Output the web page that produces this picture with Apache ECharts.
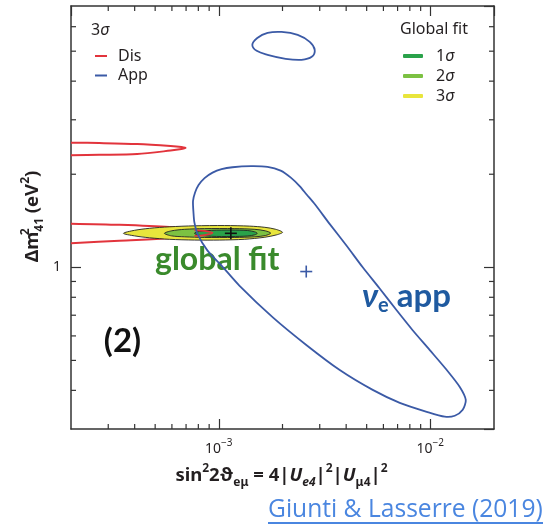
<!DOCTYPE html>
<html>
<head>
<meta charset="utf-8">
<script src="https://cdn.jsdelivr.net/npm/echarts@6/dist/echarts.min.js"></script>
<style>
  html, body { margin: 0; padding: 0; background: #fff; }
  #chart { width: 557px; height: 526px; }
</style>
</head>
<body>
<div id="chart"></div>
<script>
// Axis ranges (log scales)
const X_MIN = 2e-4, X_MAX = 2e-2;
const Y_MIN = 0.3, Y_MAX = 7;

// Minor tick values for both log axes
const xMinorTicks = [3e-4, 4e-4, 5e-4, 6e-4, 7e-4, 8e-4, 9e-4, 2e-3, 3e-3, 4e-3, 5e-3, 6e-3, 7e-3, 8e-3, 9e-3];
const yMinorTicks = [0.4, 0.5, 0.6, 0.7, 0.8, 0.9, 2, 3, 4, 5, 6];

// 3σ appearance contours: [sin²2θ_eμ, Δm²41]
const appMain = [[7.59e-4,1.499],[7.55e-4,1.638],[7.72e-4,1.745],[8.02e-4,1.845],[8.56e-4,1.943],[9.34e-4,2.024],[1.03e-3,2.077],[1.16e-3,2.107],[1.42e-3,2.123],[1.70e-3,2.112],[1.96e-3,2.054],[2.19e-3,1.950],[2.41e-3,1.831],[2.60e-3,1.720],[2.84e-3,1.602],[3.34e-3,1.382],[4.02e-3,1.174],[4.79e-3,1.0],[5.76e-3,0.854],[6.93e-3,0.726],[8.25e-3,0.626],[9.94e-3,0.540],[1.196e-2,0.4655],[1.378e-2,0.4104],[1.471e-2,0.3727],[1.423e-2,0.3461],[1.305e-2,0.3311],[1.170e-2,0.3287],[9.62e-3,0.3410],[7.17e-3,0.3646],[5.34e-3,0.4015],[3.73e-3,0.4655],[2.60e-3,0.560],[1.80e-3,0.689],[1.25e-3,0.873],[1.03e-3,1.013],[8.84e-4,1.132],[7.93e-4,1.283],[7.66e-4,1.400]];
const appIsland = [[1.44e-3,5.241],[1.52e-3,5.519],[1.70e-3,5.727],[1.98e-3,5.770],[2.36e-3,5.643],[2.69e-3,5.357],[2.84e-3,5.050],[2.75e-3,4.794],[2.46e-3,4.689],[2.07e-3,4.724],[1.70e-3,4.866],[1.51e-3,5.012]];

// 3σ disappearance contours (open towards small mixing)
const disUpper = [[2e-4,2.530],[2.72e-4,2.523],[4.11e-4,2.505],[5.91e-4,2.468],[6.66e-4,2.448],[6.96e-4,2.430],[6.66e-4,2.412],[5.91e-4,2.385],[4.11e-4,2.326],[2.72e-4,2.312],[2e-4,2.305]];
const disLower = [[2e-4,1.384],[3.39e-4,1.372],[5.84e-4,1.349],[7.67e-4,1.320],[8.56e-4,1.312],[9.34e-4,1.293],[8.56e-4,1.271],[7.67e-4,1.264],[5.84e-4,1.241],[3.39e-4,1.219],[2e-4,1.197]];

// Global fit allowed regions
const fit3 = [[3.54e-4,1.288],[3.99e-4,1.317],[4.70e-4,1.337],[5.84e-4,1.352],[7.67e-4,1.362],[1.064e-3,1.365],[1.40e-3,1.359],[1.65e-3,1.347],[1.86e-3,1.327],[2.00e-3,1.298],[1.88e-3,1.274],[1.65e-3,1.251],[1.32e-3,1.232],[1.01e-3,1.225],[7.67e-4,1.225],[5.84e-4,1.232],[4.70e-4,1.246],[3.99e-4,1.264]];
const fit2 = [[5.53e-4,1.288],[5.97e-4,1.312],[6.88e-4,1.327],[8.56e-4,1.334],[1.19e-3,1.334],[1.48e-3,1.327],[1.66e-3,1.312],[1.76e-3,1.290],[1.66e-3,1.267],[1.48e-3,1.255],[1.19e-3,1.249],[8.56e-4,1.249],[6.88e-4,1.255],[5.97e-4,1.264]];
const fit1 = [[7.67e-4,1.288],[8.10e-4,1.307],[9.24e-4,1.317],[1.15e-3,1.320],[1.37e-3,1.315],[1.48e-3,1.302],[1.52e-3,1.288],[1.48e-3,1.274],[1.37e-3,1.263],[1.15e-3,1.258],[9.24e-4,1.260],[8.10e-4,1.269]];

// Best-fit points
const bestFitGlobal = [[1.14e-3, 1.288]];
const bestFitApp = [[2.59e-3, 0.969]];

const RED = '#e2343c', BLUE = '#3b5aa6';
const C1 = '#2aa24a', C2 = '#7cc142', C3 = '#e8e53c';
const INK = '#231f20';
const FONT = '"Noto Sans", "DejaVu Sans", sans-serif';

// Contour drawn as one polygon/polyline through the cartesian coordinate system
function contour(name, pts, opts) {
  return {
    type: 'custom', name, coordinateSystem: 'cartesian2d', silent: true,
    z: opts.z, clip: true,
    data: pts,
    renderItem(params, api) {
      if (params.dataIndex !== 0) return null;
      const points = pts.map(p => api.coord(p));
      return {
        type: opts.closed ? 'polygon' : 'polyline',
        shape: { points, smooth: opts.smooth == null ? 0.3 : opts.smooth },
        style: { fill: opts.fill || null, stroke: opts.stroke, lineWidth: opts.lineWidth }
      };
    }
  };
}

function crossSeries(name, pts, color, half) {
  return {
    type: 'custom', name, coordinateSystem: 'cartesian2d', silent: true, z: 20,
    data: pts,
    renderItem(params, api) {
      const c = api.coord([api.value(0), api.value(1)]);
      const st = { stroke: color, lineWidth: 1.6 };
      return { type: 'group', children: [
        { type: 'line', shape: { x1: c[0] - half, y1: c[1], x2: c[0] + half, y2: c[1] }, style: st },
        { type: 'line', shape: { x1: c[0], y1: c[1] - half, x2: c[0], y2: c[1] + half }, style: st }
      ]};
    }
  };
}

function minorTicks(values, isX) {
  return {
    type: 'custom', silent: true, z: 30, coordinateSystem: 'cartesian2d',
    data: values.map(v => isX ? [v, Y_MIN] : [X_MIN, v]),
    renderItem(params, api) {
      const v = values[params.dataIndex];
      const st = { stroke: '#333', lineWidth: 1.2 };
      if (isX) {
        const b = api.coord([v, Y_MIN]), t = api.coord([v, Y_MAX]);
        return { type: 'group', children: [
          { type: 'line', shape: { x1: b[0], y1: b[1], x2: b[0], y2: b[1] - 5 }, style: st },
          { type: 'line', shape: { x1: t[0], y1: t[1], x2: t[0], y2: t[1] + 5 }, style: st }
        ]};
      }
      const l = api.coord([X_MIN, v]), r = api.coord([X_MAX, v]);
      return { type: 'group', children: [
        { type: 'line', shape: { x1: l[0], y1: l[1], x2: l[0] + 5, y2: l[1] }, style: st },
        { type: 'line', shape: { x1: r[0], y1: r[1], x2: r[0] - 5, y2: r[1] }, style: st }
      ]};
    }
  };
}

const axisLineStyle = { lineStyle: { color: '#333', width: 1.5 } };
const majorTick = { show: true, inside: true, length: 10, lineStyle: { color: '#333', width: 1.2 } };

const chart = echarts.init(document.getElementById('chart'), null, { renderer: 'canvas' });

const titleRich = {
  m: { font: 'bold 18.5px ' + FONT, fill: INK, lineHeight: 26, verticalAlign: 'middle' },
  u: { font: 'italic bold 18.5px ' + FONT, fill: INK, lineHeight: 26, verticalAlign: 'middle' },
  p: { font: 'bold 12px ' + FONT, fill: INK, lineHeight: 26, verticalAlign: 'top' },
  b: { font: 'bold 12px ' + FONT, fill: INK, lineHeight: 26, verticalAlign: 'bottom' },
  bi: { font: 'italic bold 12px ' + FONT, fill: INK, lineHeight: 26, verticalAlign: 'bottom' },
  // zero-advance superscript so that the following subscript sits underneath it
  ps: { font: 'bold 12px ' + FONT, fill: INK, lineHeight: 26, verticalAlign: 'top', width: 0.1 }
};

const option = {
  animation: false,
  backgroundColor: '#fff',
  grid: { left: 71, right: 63, top: 6, bottom: 97 },
  xAxis: [
    {
      type: 'log', logBase: 10, min: X_MIN, max: X_MAX, position: 'bottom',
      axisLine: axisLineStyle, axisTick: majorTick, splitLine: { show: false },
      axisLabel: {
        margin: 9, showMinLabel: false, showMaxLabel: false,
        formatter: v => '{b|10}{s|\u2212' + (-Math.round(Math.log10(v))) + '}',
        rich: {
          b: { fontSize: 14, fontFamily: FONT, color: INK, lineHeight: 18, verticalAlign: 'bottom' },
          s: { fontSize: 10, fontFamily: FONT, color: INK, lineHeight: 18, verticalAlign: 'top' }
        }
      }
    },
    {
      type: 'log', logBase: 10, min: X_MIN, max: X_MAX, position: 'top',
      axisLine: axisLineStyle, axisTick: majorTick, axisLabel: { show: false }, splitLine: { show: false }
    }
  ],
  yAxis: [
    {
      type: 'log', logBase: 10, min: Y_MIN, max: Y_MAX, position: 'left',
      axisLine: axisLineStyle, axisTick: majorTick, splitLine: { show: false },
      axisLabel: { margin: 10, showMinLabel: false, showMaxLabel: false, fontSize: 14, fontFamily: FONT, color: INK,
        formatter: v => String(Math.round(v)) }
    },
    {
      type: 'log', logBase: 10, min: Y_MIN, max: Y_MAX, position: 'right',
      axisLine: axisLineStyle, axisTick: majorTick, axisLabel: { show: false }, splitLine: { show: false }
    }
  ],
  legend: [
    {
      orient: 'vertical', left: 90, top: 41.5, itemWidth: 12, itemHeight: 2, itemGap: 0.5,
      selectedMode: false, icon: 'rect',
      data: [
        { name: 'Dis', itemStyle: { color: RED } },
        { name: 'App', itemStyle: { color: BLUE } }
      ],
      textStyle: { fontSize: 16, fontFamily: FONT, color: INK, lineHeight: 19, padding: [0, 0, 0, 6] }
    },
    {
      orient: 'vertical', left: 398, top: 41, itemWidth: 20, itemHeight: 4, itemGap: 0,
      selectedMode: false, icon: 'roundRect',
      data: [
        { name: '1σ', itemStyle: { color: C1 } },
        { name: '2σ', itemStyle: { color: C2 } },
        { name: '3σ', itemStyle: { color: C3 } }
      ],
      formatter: n => '{n|' + n.slice(0, 1) + '}{i|σ}',
      textStyle: {
        fontSize: 16, fontFamily: FONT, color: INK, lineHeight: 20, padding: [0, 0, 0, 8],
        rich: {
          n: { fontSize: 16, fontFamily: FONT, color: INK, lineHeight: 20 },
          i: { fontSize: 16, fontFamily: FONT, color: INK, fontStyle: 'italic', lineHeight: 20 }
        }
      }
    }
  ],
  series: [
    contour('Dis', disUpper, { z: 5, stroke: RED, lineWidth: 2 }),
    contour('Dis', disLower, { z: 1, stroke: RED, lineWidth: 2 }),
    contour('3σ', fit3, { z: 2, closed: true, fill: C3, stroke: '#222', lineWidth: 0.9 }),
    contour('2σ', fit2, { z: 3, closed: true, fill: C2, stroke: '#222', lineWidth: 0.9 }),
    contour('1σ', fit1, { z: 4, closed: true, fill: C1, stroke: '#222', lineWidth: 0.9 }),
    contour('Dis', disLower.slice(3, 8), { z: 5, stroke: RED, lineWidth: 1.8 }),
    contour('App', appMain, { z: 7, closed: true, stroke: BLUE, lineWidth: 1.8, smooth: 0.25 }),
    contour('App', appIsland, { z: 7, closed: true, stroke: BLUE, lineWidth: 1.8, smooth: 0.35 }),
    crossSeries('best fit', bestFitGlobal, '#111', 6),
    crossSeries('app best fit', bestFitApp, BLUE, 6),
    minorTicks(xMinorTicks, true),
    minorTicks(yMinorTicks, false)
  ],
  graphic: [
    { type: 'text', left: 91, top: 22, style: { text: '{n|3}{i|σ}', rich: {
        n: { fontSize: 16, fontFamily: FONT, fill: INK }, i: { fontSize: 16, fontFamily: FONT, fontStyle: 'italic', fill: INK } } } },
    { type: 'text', left: 400, top: 21, style: { text: 'Global fit', fontSize: 16, fontFamily: FONT, fill: INK } },
    { type: 'text', x: 155, y: 260, style: { text: 'global fit', font: 'bold 32px Lato, sans-serif', fill: '#3a8a2c', verticalAlign: 'middle' } },
    { type: 'text', x: 362, y: 296, style: {
        text: '{nu|ν}{e|e}{t| app}', verticalAlign: 'middle',
        rich: {
          nu: { font: 'italic bold 33px Lato, sans-serif', fill: '#1f5aa0', lineHeight: 40, verticalAlign: 'middle' },
          e: { font: 'bold 20px Lato, sans-serif', fill: '#1f5aa0', lineHeight: 40, verticalAlign: 'bottom' },
          t: { font: 'bold 33px Lato, sans-serif', fill: '#1f5aa0', lineHeight: 40, verticalAlign: 'middle' }
        } } },
    { type: 'text', x: 122.5, y: 341, style: { text: '(2)', font: 'bold 33px Lato, sans-serif', fill: '#111', align: 'center', verticalAlign: 'middle' } },
    // x-axis title
    { type: 'text', x: 281.5, y: 476, style: {
        text: '{m|sin}{p|2}{m|2ϑ}{b|eμ}{m| = 4|}{u|U}{bi|e4}{m||}{p|2}{m||}{u|U}{b|μ4}{m||}{p|2}',
        align: 'center', verticalAlign: 'middle', rich: titleRich } },
    // y-axis title, rotated to read bottom-to-top
    { type: 'text', x: 33, y: 216.5, rotation: Math.PI / 2, style: {
        text: '{m|Δm}{ps|2}{b|41}{m| (eV}{p|2}{m|)}',
        align: 'center', verticalAlign: 'middle', rich: titleRich } },
    // citation link
    { type: 'text', x: 268, y: 509.5, style: { text: 'Giunti & Lasserre (2019)', font: '24.6px "Open Sans", sans-serif', fill: '#4a86e0', verticalAlign: 'middle' } },
    { type: 'rect', shape: { x: 268, y: 522, width: 275, height: 2 }, style: { fill: '#4a86e0' } }
  ]
};

chart.setOption(option);
</script>
</body>
</html>
